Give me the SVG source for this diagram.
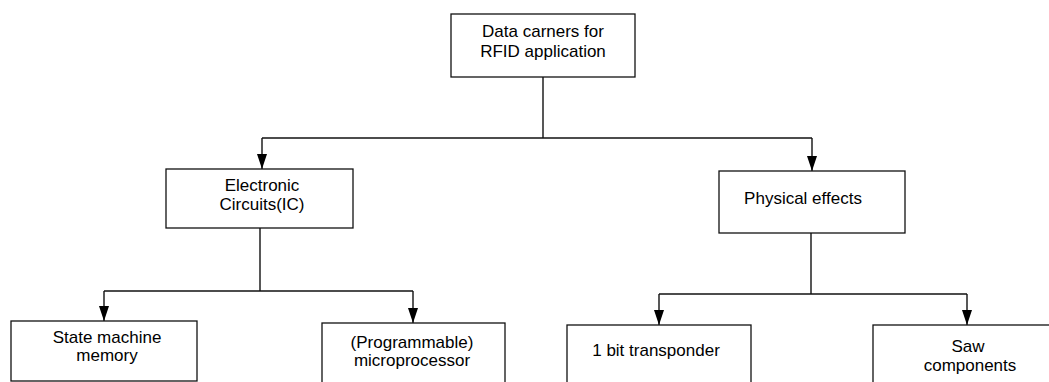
<svg xmlns="http://www.w3.org/2000/svg" width="1049" height="382" viewBox="0 0 1049 382">
<defs>
<marker id="arr" markerWidth="15" markerHeight="10" refX="15" refY="5" orient="auto" markerUnits="userSpaceOnUse" viewBox="0 0 15 10">
<path d="M0,0 L15,5 L0,10 Z" fill="#000"/>
</marker>
<style>
.box{fill:#fff;stroke:#111;stroke-width:1.3}
.lbl{font-family:"Liberation Sans",Arial,sans-serif;font-size:17px;fill:#000;text-anchor:middle}
.con{fill:none;stroke:#111;stroke-width:1.4}
</style>
</defs>
<rect width="1049" height="382" fill="#fff"/>
<g id="connectors">
<path class="con" d="M543,77 V138"/>
<path class="con" d="M262,138 H812"/>
<path class="con" d="M262,138 V169" marker-end="url(#arr)"/>
<path class="con" d="M812,138 V171" marker-end="url(#arr)"/>
<path class="con" d="M260,228 V291"/>
<path class="con" d="M104,291 H413"/>
<path class="con" d="M104,291 V321" marker-end="url(#arr)"/>
<path class="con" d="M413,291 V323" marker-end="url(#arr)"/>
<path class="con" d="M811,233 V294"/>
<path class="con" d="M659,294 H967"/>
<path class="con" d="M659,294 V325" marker-end="url(#arr)"/>
<path class="con" d="M967,294 V325" marker-end="url(#arr)"/>
</g>
<g id="root">
<rect class="box" x="451" y="14" width="184" height="63"/>
<text class="lbl" x="543" y="37">Data carners for</text>
<text class="lbl" x="543" y="57">RFID application</text>
</g>
<g id="electronic">
<rect class="box" x="166" y="169" width="187" height="59"/>
<text class="lbl" x="262" y="191">Electronic</text>
<text class="lbl" x="262" y="210">Circuits(IC)</text>
</g>
<g id="physical">
<rect class="box" x="719" y="171" width="186" height="62"/>
<text class="lbl" x="803" y="204">Physical effects</text>
</g>
<g id="statemachine">
<rect class="box" x="11" y="321" width="186" height="60"/>
<text class="lbl" x="107" y="343">State machine</text>
<text class="lbl" x="107" y="361">memory</text>
</g>
<g id="microprocessor">
<rect class="box" x="322" y="323" width="183" height="70"/>
<text class="lbl" x="412" y="348">(Programmable)</text>
<text class="lbl" x="412" y="366">microprocessor</text>
</g>
<g id="transponder">
<rect class="box" x="567" y="325" width="184" height="70"/>
<text class="lbl" x="656" y="356">1 bit transponder</text>
</g>
<g id="saw">
<rect class="box" x="873" y="325" width="190" height="70"/>
<text class="lbl" x="968" y="352">Saw</text>
<text class="lbl" x="970" y="371">components</text>
</g>
</svg>
